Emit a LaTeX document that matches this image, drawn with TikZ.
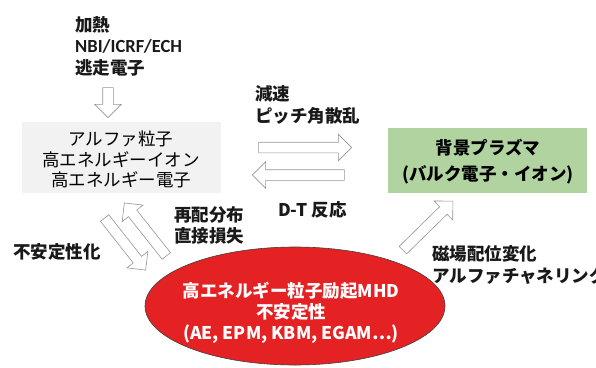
\documentclass[tikz,border=0pt]{standalone}
\usepackage{fontspec}
\setmainfont{Noto Sans CJK JP}
\newfontfamily\latinf{Carlito}
\usetikzlibrary{shapes.arrows,shapes.geometric,calc}
\definecolor{boxgray}{RGB}{242,242,242}
\definecolor{boxgreen}{RGB}{176,211,160}
\definecolor{mhdred}{RGB}{228,34,36}
\definecolor{arrgray}{RGB}{150,150,150}
\tikzset{
  lbl/.style={font=\fontsize{17.5}{21.5}\selectfont\bfseries, align=left, inner sep=0pt, text=black!90},
  boxtxt/.style={font=\fontsize{17.5}{20.5}\selectfont, align=center, inner sep=0pt},
  harrow/.style={shape=single arrow, draw=arrgray, fill=white, line width=0.6pt,
    inner xsep=0pt, inner ysep=5pt, single arrow head extend=8pt,
    single arrow head indent=0pt, minimum width=26pt}
}
\newcommand\hollowarr[3]{\path let \p1=($(#3)-(#2)$), \n1={atan2(\y1,\x1)}, \n2={veclen(\x1,\y1)} in node[harrow, minimum height=\n2, rotate=\n1] (#1) at ($(#2)!0.5!(#3)$) {};}
\begin{document}
\begin{tikzpicture}[x=1pt,y=-1pt]
\useasboundingbox (0,0) rectangle (596,367);
% texts
\node[lbl, anchor=west] (src) at (75,46) {加熱\\{\latinf\fontsize{18.5}{21.5}\selectfont NBI/ICRF/ECH}\\逃走電子};
\node[lbl, anchor=west] (slow) at (255,105) {減速\\ピッチ角散乱};
\node[lbl, anchor=west] (dt) at (278,210) {D-T 反応};
\node[lbl, anchor=west] (redis) at (174,225.5) {再配分布\\直接損失};
\node[lbl, anchor=west] (destab) at (13,252) {不安定性化};
\node[lbl, anchor=west] (mag) at (432,265) {磁場配位変化\\アルファチャネリング};
% boxes
\node[fill=boxgray, minimum width=199pt, minimum height=71pt, inner sep=0pt] (ep) at (121,157.5) {};
\node[boxtxt] (eptxt) at (121,159.5) {アルファ粒子\\高エネルギーイオン\\高エネルギー電子};
\node[fill=boxgreen, minimum width=199pt, minimum height=65pt, inner sep=0pt] (bg) at (487.5,160.5) {};
\node[boxtxt, font=\fontsize{17.5}{26}\selectfont\bfseries] (bgtxt) at (488,161.5) {背景プラズマ\\(バルク電子・イオン)};
% ellipse
\node[ellipse, fill=mhdred, draw=black!75, line width=0.6pt, minimum width=300pt, minimum height=118pt, inner sep=0pt] (mhd) at (295,306) {};
\node[boxtxt, font=\fontsize{17.5}{21}\selectfont\bfseries, text=white] (mhdtxt) at (291,313) {高エネルギー粒子励起MHD\\不安定性\\(AE, EPM, KBM, EGAM…)};
% arrows
\coordinate (a1s) at (108,85);   \coordinate (a1e) at (108,115);
\coordinate (a2s) at (256,147.5); \coordinate (a2e) at (349,147.5);
\coordinate (a3s) at (347,175);  \coordinate (a3e) at (255,175);
\coordinate (a4s) at (103,216);  \coordinate (a4e) at (144,268);
\coordinate (a5s) at (168,258);  \coordinate (a5e) at (126,205);
\coordinate (a6s) at (401,252);  \coordinate (a6e) at (451,203);
\hollowarr{heat}{a1s}{a1e}
\hollowarr{slowarr}{a2s}{a2e}
\hollowarr{dtarr}{a3s}{a3e}
\hollowarr{destabarr}{a4s}{a4e}
\hollowarr{redisarr}{a5s}{a5e}
\hollowarr{magarr}{a6s}{a6e}
\end{tikzpicture}
\end{document}
